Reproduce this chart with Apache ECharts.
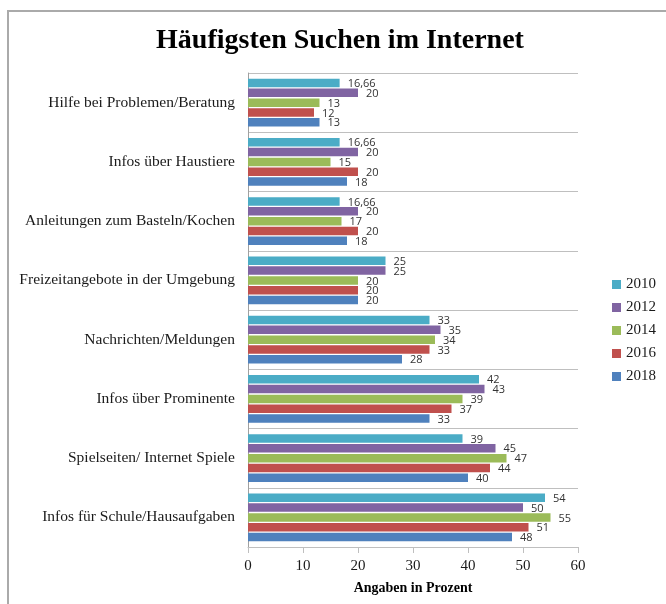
<!DOCTYPE html>
<html>
<head>
<meta charset="utf-8">
<script src="https://cdn.jsdelivr.net/npm/echarts@6/dist/echarts.min.js"></script>
<style>
  html, body { margin: 0; padding: 0; background: #fff; }
  #chart { width: 666px; height: 604px; }
</style>
</head>
<body>
<div id="chart"></div>
<script>
// categories, top to bottom
const categories = [
  'Hilfe bei Problemen/Beratung',
  'Infos über Haustiere',
  'Anleitungen zum Basteln/Kochen',
  'Freizeitangebote in der Umgebung',
  'Nachrichten/Meldungen',
  'Infos über Prominente',
  'Spielseiten/ Internet Spiele',
  'Infos für Schule/Hausaufgaben'
]
const years = ['2010', '2012', '2014', '2016', '2018']
const colors = ['#4BACC6', '#8064A2', '#9BBB59', '#C0504D', '#4F81BD']

const values2010 = [16.66, 16.66, 16.66, 25, 33, 42, 39, 54]
const values2012 = [20, 20, 20, 25, 35, 43, 45, 50]
const values2014 = [13, 15, 17, 20, 34, 39, 47, 55]
const values2016 = [12, 20, 20, 20, 33, 37, 44, 51]
const values2018 = [13, 18, 18, 20, 28, 33, 40, 48]
const xTicks = [0, 10, 20, 30, 40, 50, 60]

const seriesValues = [values2010, values2012, values2014, values2016, values2018]
const serif = '"Liberation Serif", "DejaVu Serif", serif'

const chart = echarts.init(document.getElementById('chart'))

const series = years.map((year, i) => ({
  name: year,
  type: 'bar',
  data: seriesValues[i],
  barWidth: 8.5,
  barGap: '15%',
  itemStyle: {
    color: colors[i]
  },
  label: {
    show: true,
    position: 'right',
    distance: 8,
    color: '#333',
    fontFamily: '"Open Sans", "Liberation Sans", sans-serif',
    fontSize: 11,
    offset: [0, 1],
    formatter: (p) => String(p.value).replace('.', ',')
  }
}))

chart.setOption({
  animation: false,
  color: colors,
  graphic: [{
    type: 'rect',
    shape: { x: 8, y: 11, width: 700, height: 700 },
    style: { fill: 'none', stroke: '#aaaaaa', lineWidth: 2 },
    silent: true
  }],
  title: {
    text: 'Häufigsten Suchen im Internet',
    left: 335,
    textAlign: 'center',
    top: 22,
    textStyle: {
      fontFamily: serif,
      fontWeight: 'bold',
      fontSize: 28,
      color: '#000'
    }
  },
  legend: {
    data: years,
    orient: 'vertical',
    left: 607,
    top: 272,
    itemWidth: 9,
    itemHeight: 9,
    itemGap: 8,
    icon: 'rect',
    textStyle: {
      fontFamily: serif,
      fontSize: 15,
      color: '#1a1a1a'
    }
  },
  grid: {
    left: 248,
    right: 88,
    top: 73,
    bottom: 57,
    containLabel: false
  },
  xAxis: {
    type: 'value',
    min: 0,
    max: 60,
    interval: 10,
    name: 'Angaben in Prozent',
    nameLocation: 'middle',
    nameGap: 34,
    nameTextStyle: {
      fontFamily: serif,
      fontWeight: 'bold',
      fontSize: 14,
      color: '#000'
    },
    axisLine: { show: true, lineStyle: { color: '#bfbfbf', width: 1 } },
    axisTick: { show: true, length: 6, lineStyle: { color: '#bfbfbf' } },
    axisLabel: {
      fontFamily: serif,
      fontSize: 15,
      color: '#1a1a1a',
      margin: 12,
      formatter: (v) => (xTicks.includes(v) ? String(v) : '')
    },
    splitLine: { show: false }
  },
  yAxis: {
    type: 'category',
    data: categories,
    inverse: true,
    axisLine: { show: true, onZero: false, lineStyle: { color: '#a0a0a0', width: 1 } },
    axisTick: { show: false },
    axisLabel: {
      fontFamily: serif,
      fontSize: 15.5,
      color: '#1a1a1a',
      margin: 13
    },
    splitLine: { show: true, lineStyle: { color: '#bfbfbf', width: 1 } }
  },
  series: series
})
</script>
</body>
</html>
